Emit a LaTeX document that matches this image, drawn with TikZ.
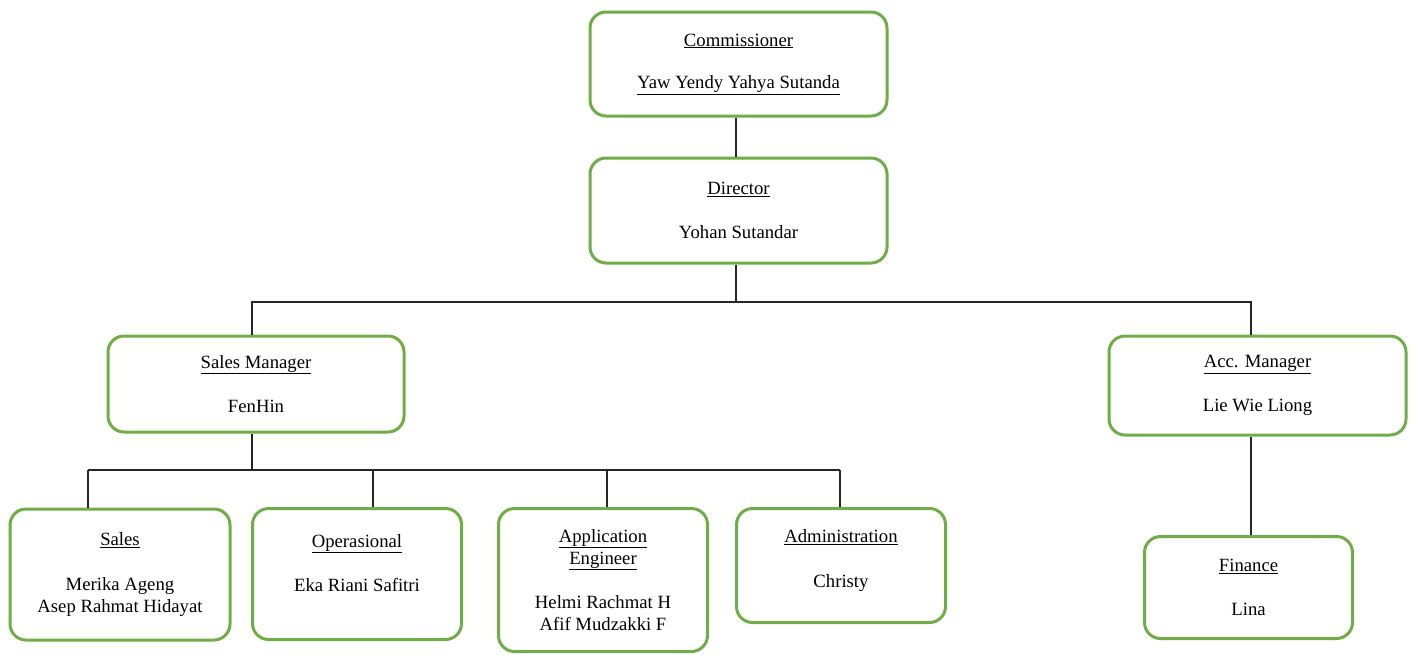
\documentclass[tikz,border=0pt]{standalone}
\usepackage{fontspec}
\setmainfont{Liberation Serif}
\usepackage{xcolor}
\definecolor{boxgreen}{HTML}{70AD47}

\begin{document}
\begin{tikzpicture}[x=1pt, y=-1pt,
    unit/.style={draw=boxgreen, line width=3pt, rounded corners=16pt, fill=white,
      align=center, inner sep=0pt, font=\fontsize{18.7}{22.2}\selectfont},
    link/.style={line width=1.2pt, black!85}]
    % Fix the page size
    \useasboundingbox (0,0) rectangle (1414,654);

    % Top of the chart
    \node[unit, minimum width=297pt, minimum height=104pt] (com) at (738.5,64)
      {\underline{Commissioner}\\[20pt]\underline{Yaw Yendy Yahya Sutanda}};
    \node[unit, minimum width=297pt, minimum height=105pt] (dir) at (738.5,210.5)
      {\underline{Director}\\[22.2pt]Yohan Sutandar};

    % Managers
    \node[unit, minimum width=296pt, minimum height=96pt] (sm) at (256,384)
      {\underline{Sales Manager}\\[22.2pt]FenHin};
    \node[unit, minimum width=297pt, minimum height=99pt] (acc) at (1257.5,385.5)
      {\underline{Acc. Manager}\\[22.2pt]Lie Wie Liong};

    % Staff
    \node[unit, minimum width=220pt, minimum height=131pt] (sal) at (120,574.5)
      {\underline{Sales}\\[22.2pt]Merika Ageng\\Asep Rahmat Hidayat};
    \node[unit, minimum width=209pt, minimum height=131pt] (ops) at (357,574)
      {\underline{Operasional}\\[22.2pt]Eka Riani Safitri\\\mbox{}};
    \node[unit, minimum width=209pt, minimum height=143pt] (app) at (603,580)
      {\underline{Application}\\\underline{Engineer}\\[22.2pt]Helmi Rachmat H\\Afif Mudzakki F};
    \node[unit, minimum width=209pt, minimum height=114pt] (adm) at (841,565.5)
      {\underline{Administration}\\[22.2pt]Christy\\[-8pt]\mbox{}};
    \node[unit, minimum width=208pt, minimum height=102pt] (fin) at (1248.5,587.5)
      {\underline{Finance}\\[22.2pt]Lina};

    % Junction points
    \coordinate (b1) at (736,302);
    \coordinate (b1l) at (252,302);
    \coordinate (b1r) at (1251,302);
    \coordinate (b2) at (252,470);
    \coordinate (d-sal) at (88,470);
    \coordinate (d-ops) at (373,470);
    \coordinate (d-app) at (607,470);
    \coordinate (d-adm) at (840,470);

    % Connectors
    \draw[link] (b1 |- com.south) -- (b1 |- dir.north);
    \draw[link] (b1 |- dir.south) -- (b1);
    \draw[link] (b1l |- sm.north) -- (b1l) -- (b1r) -- (b1r |- acc.north);
    \draw[link] (b1r |- acc.south) -- (b1r |- fin.north);
    \draw[link] (b2 |- sm.south) -- (b2);
    \draw[link] (d-sal) -- (d-adm);
    \foreach \n in {sal, ops, app, adm}
      \draw[link] (d-\n) -- (d-\n |- \n.north);
\end{tikzpicture}
\end{document}
